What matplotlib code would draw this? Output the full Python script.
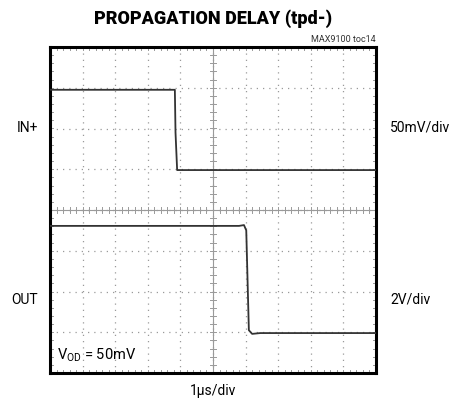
import matplotlib
matplotlib.use("Agg")
import matplotlib.pyplot as plt
import numpy as np

# data in screen divisions (x: 0..10 div, y: 0..8 div)
in_t = [0.0, 3.83, 3.85, 3.90, 10.0]
in_v = [6.95, 6.95, 5.9, 4.98, 4.98]
out_t = [0.0, 5.80, 5.95, 6.02, 6.10, 6.20, 6.45, 10.0]
out_v = [3.61, 3.61, 3.63, 3.50, 1.05, 0.96, 0.98, 0.98]

fig = plt.figure(figsize=(4.54, 4.04), dpi=100)
ax = fig.add_axes([50/454, 31/404, 326/454, 326/404])
ax.set_xlim(0, 10)
ax.set_ylim(0, 8)

grid_c = "#9a9a9a"
for x in range(1, 10):
    ax.plot([x, x], [0, 8], color=grid_c, lw=0.9, ls=(0, (1, 4)), zorder=1)
for y in range(1, 8):
    ax.plot([0, 10], [y, y], color=grid_c, lw=0.9, ls=(0, (1, 4)), zorder=1)

# center axes with minor ticks
ax.plot([5, 5], [0, 8], color=grid_c, lw=0.8, zorder=1)
ax.plot([0, 10], [4, 4], color=grid_c, lw=0.8, zorder=1)
for x in np.arange(0.2, 10, 0.2):
    ax.plot([x, x], [3.93, 4.07], color=grid_c, lw=0.7, zorder=1)
    ax.plot([x, x], [8, 7.93], color=grid_c, lw=0.7, zorder=1)
    ax.plot([x, x], [0, 0.07], color=grid_c, lw=0.7, zorder=1)
for y in np.arange(0.2, 8, 0.2):
    ax.plot([4.91, 5.09], [y, y], color=grid_c, lw=0.7, zorder=1)
    ax.plot([0, 0.09], [y, y], color=grid_c, lw=0.7, zorder=1)
    ax.plot([10, 9.91], [y, y], color=grid_c, lw=0.7, zorder=1)

ax.plot(in_t, in_v, color="#333333", lw=1.3, zorder=3)
ax.plot(out_t, out_v, color="#333333", lw=1.3, zorder=3)

ax.set_xticks([])
ax.set_yticks([])
for s in ax.spines.values():
    s.set_linewidth(2.2)
    s.set_color("black")

fam = ["Roboto", "DejaVu Sans"]
fig.text(213/454, 1 - 19/404, "PROPAGATION DELAY (tpd-)", ha="center", va="center",
         fontsize=13, fontweight="black", family=fam)
fig.text(376/454, 1 - 40/404, "MAX9100 toc14", ha="right", va="center",
         fontsize=6.5, family=fam, color="#333333")
fig.text(38/454, 1 - 128/404, "IN+", ha="right", va="center", fontsize=10, family=fam)
fig.text(390/454, 1 - 128/404, "50mV/div", ha="left", va="center", fontsize=10, family=fam)
fig.text(38/454, 1 - 300/404, "OUT", ha="right", va="center", fontsize=10, family=fam)
fig.text(390/454, 1 - 300/404, "2V/div", ha="left", va="center", fontsize=10, family=fam)
fig.text(213/454, 1 - 391/404, "1\u03bcs/div", ha="center", va="center", fontsize=10, family=fam)
ax.text(0.2, 0.45, r"V$_{\mathregular{OD}}$ = 50mV", ha="left", va="center", fontsize=10.5,
        family=fam, zorder=4)

fig.savefig("out.png", dpi=100)
